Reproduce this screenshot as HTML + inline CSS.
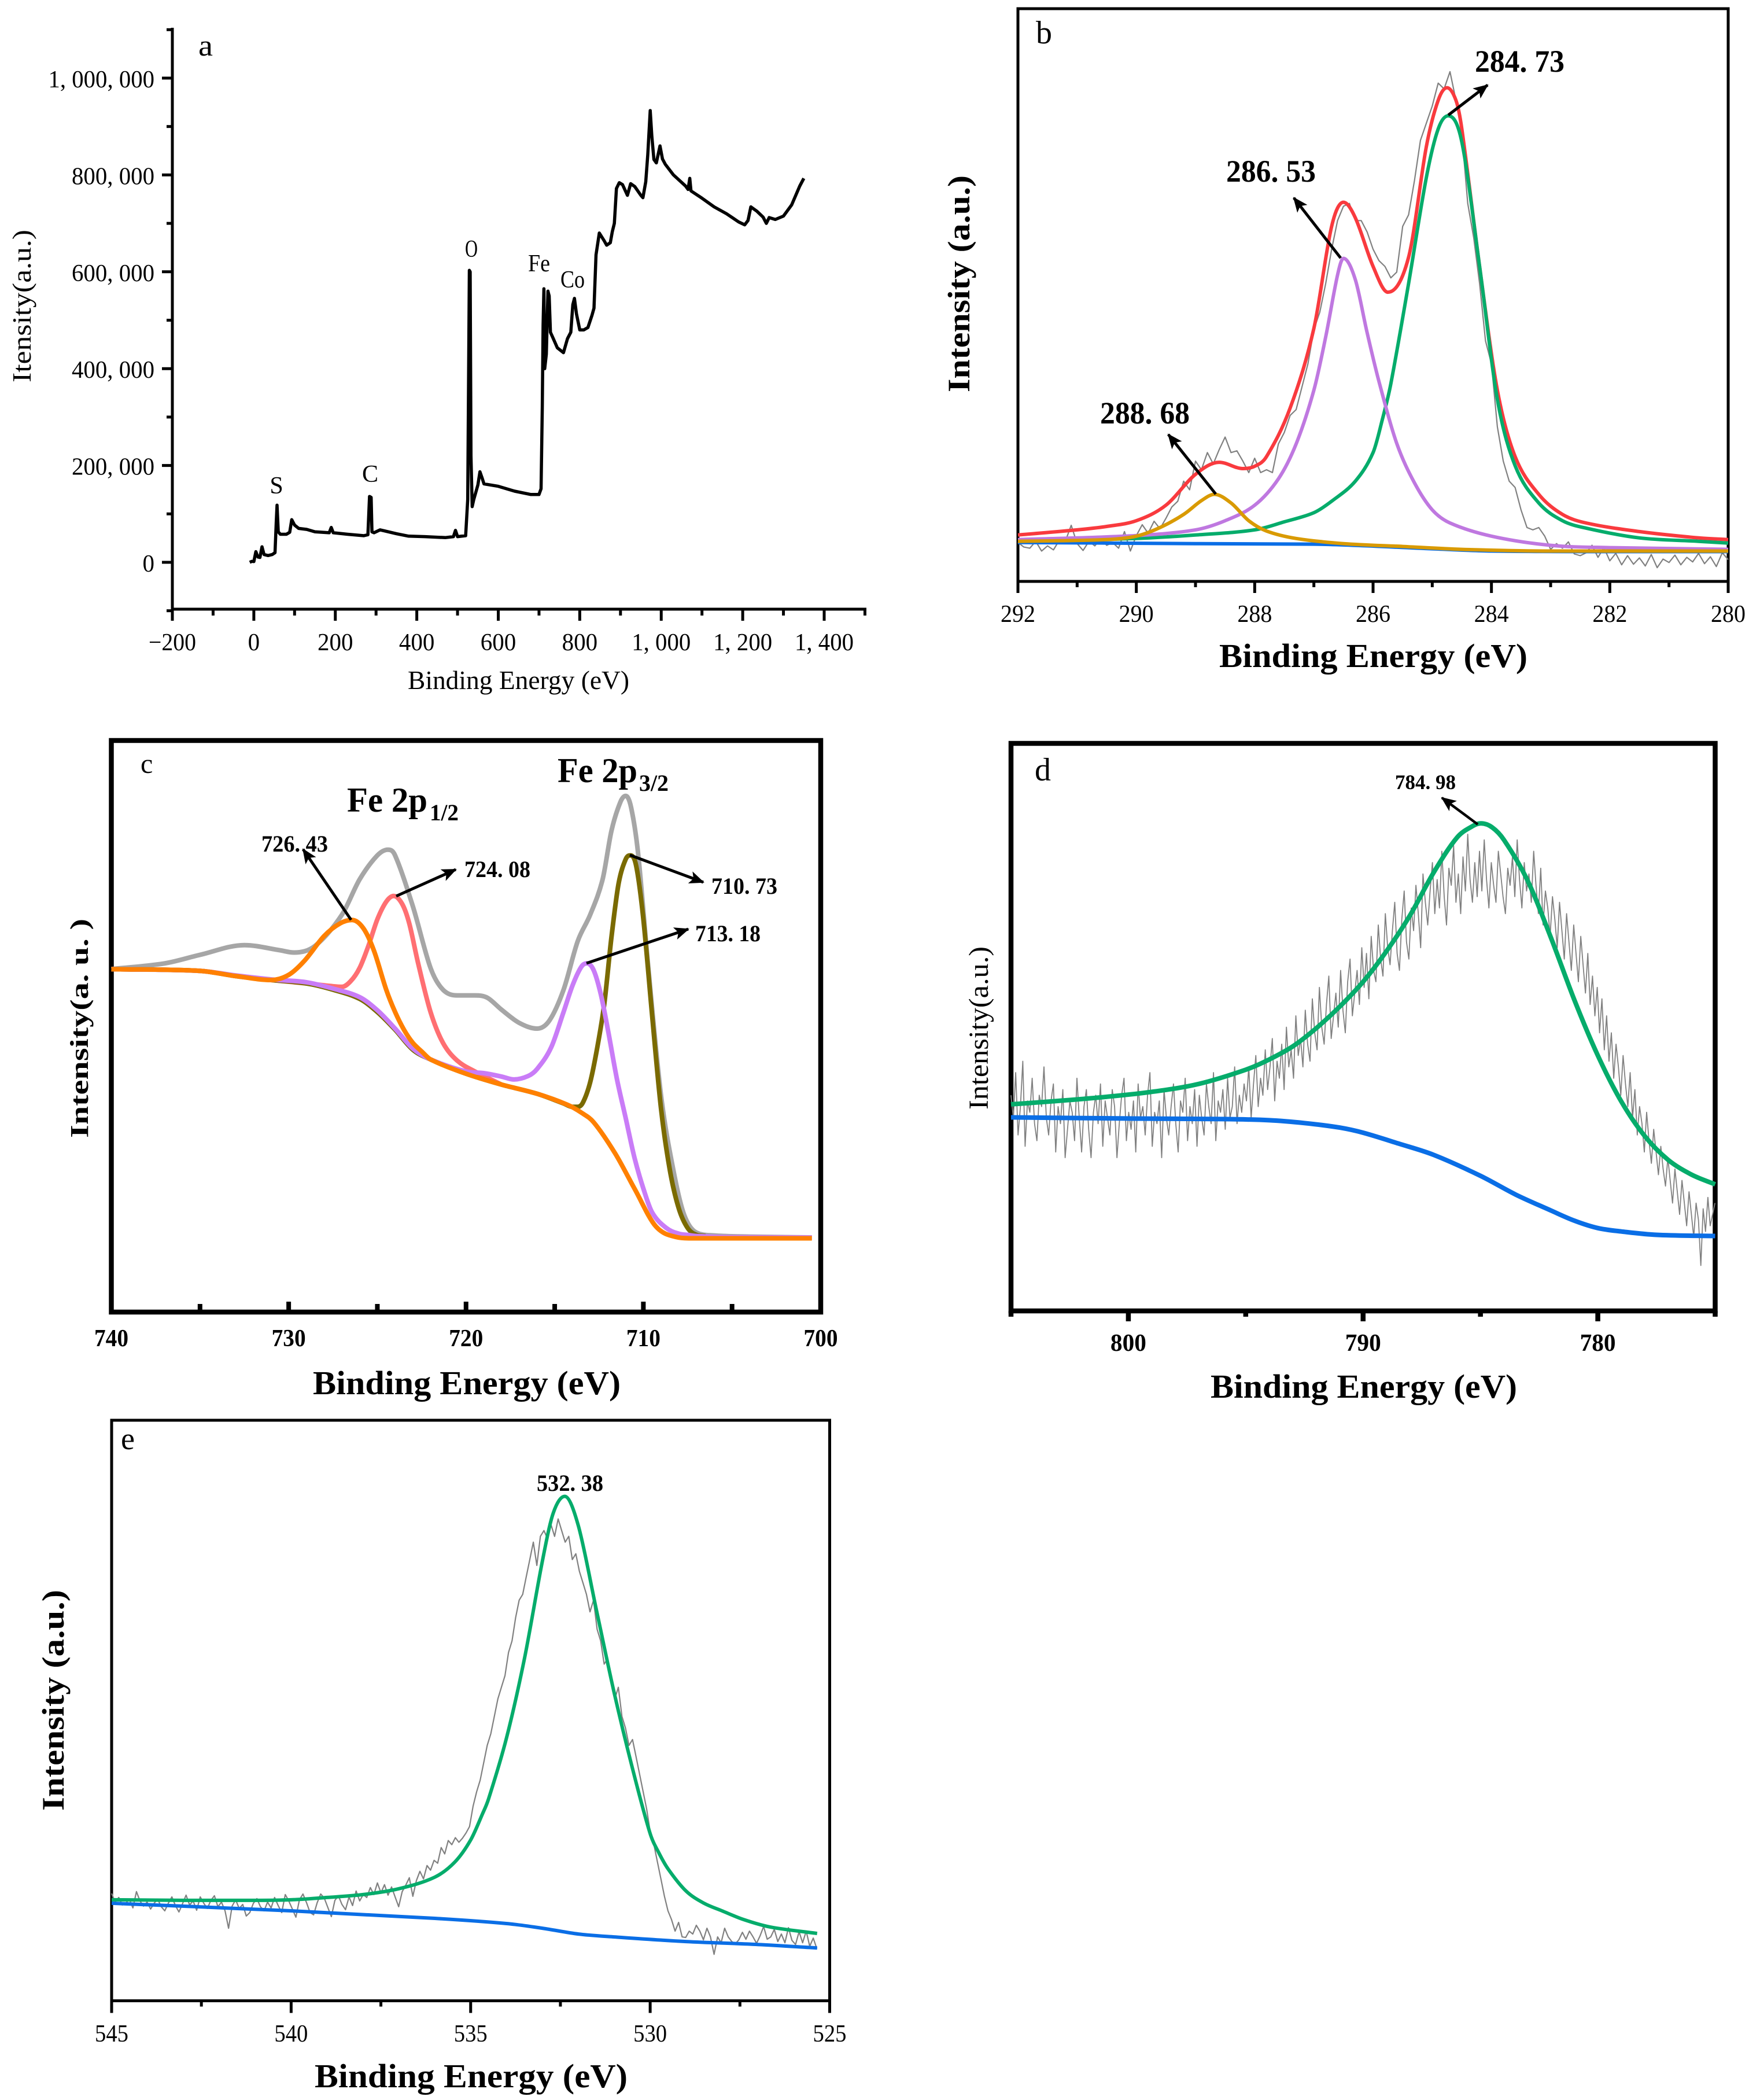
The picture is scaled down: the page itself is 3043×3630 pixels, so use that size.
<!DOCTYPE html>
<html lang="en">
<head>
<meta charset="utf-8">
<title>XPS spectra panels</title>
<style>
html,body{margin:0;padding:0;background:#fff;}
svg{display:block;}
text{font-family:"Liberation Serif","Noto Serif CJK SC",serif;fill:#000;}
.b{font-weight:bold;}
</style>
</head>
<body>
<svg id="figure" xmlns="http://www.w3.org/2000/svg" width="3043" height="3630" viewBox="0 0 3043 3630">
<defs>
<marker id="ah" viewBox="0 0 26 22" markerUnits="userSpaceOnUse" markerWidth="26" markerHeight="22" refX="24" refY="11" orient="auto">
<path d="M0 0L26 11L0 22L6 11z" fill="#000"/>
</marker>
</defs>
<rect width="3043" height="3630" fill="#fff"/>

<g id="panel-a">
<text x="343" y="96" font-size="52" textLength="25" lengthAdjust="spacingAndGlyphs">a</text>
<text x="478" y="853" font-size="42" text-anchor="middle">S</text>
<text x="640" y="833" font-size="42" text-anchor="middle">C</text>
<text x="815" y="444" font-size="42" text-anchor="middle" textLength="22" lengthAdjust="spacingAndGlyphs">O</text>
<text x="932" y="469" font-size="42" text-anchor="middle" textLength="38" lengthAdjust="spacingAndGlyphs">Fe</text>
<text x="990" y="497" font-size="42" text-anchor="middle" textLength="42" lengthAdjust="spacingAndGlyphs">Co</text>
<text x="705" y="1191" font-size="46" textLength="383" lengthAdjust="spacingAndGlyphs">Binding Energy (eV)</text>
<text transform="translate(53,661) rotate(-90)" font-size="46" textLength="264" lengthAdjust="spacingAndGlyphs">Itensity(a.u.)</text>
</g>

<g id="panel-b">
<rect x="1760" y="15" width="1228" height="990" fill="none" stroke="#000" stroke-width="5"/>
<text x="1791" y="75" font-size="56">b</text>
<text class="b" x="2108" y="1153" font-size="58" textLength="533" lengthAdjust="spacingAndGlyphs">Binding Energy (eV)</text>
<text class="b" transform="translate(1676,678) rotate(-90)" font-size="54" textLength="375" lengthAdjust="spacingAndGlyphs">Intensity (a.u.)</text>
</g>

<g id="panel-c">
<rect x="192.5" y="1280" width="1226.5" height="988" fill="none" stroke="#000" stroke-width="8.5"/>
<text x="243" y="1336" font-size="48">c</text>
<text class="b" x="541" y="2410" font-size="58" textLength="532" lengthAdjust="spacingAndGlyphs">Binding Energy (eV)</text>
<text class="b" transform="translate(152,1967) rotate(-90)" font-size="44" textLength="379" lengthAdjust="spacingAndGlyphs">Intensity(a. u. )</text>
</g>

<g id="panel-d">
<rect x="1748" y="1285" width="1217.5" height="981" fill="none" stroke="#000" stroke-width="8.5"/>
<text x="1789" y="1349" font-size="56">d</text>
<text class="b" x="2093" y="2416" font-size="58" textLength="530" lengthAdjust="spacingAndGlyphs">Binding Energy (eV)</text>
<text transform="translate(1708,1918) rotate(-90)" font-size="48" textLength="282" lengthAdjust="spacingAndGlyphs">Intensity(a.u.)</text>
</g>

<g id="panel-e">
<rect x="193" y="2455" width="1241.5" height="1003.5" fill="none" stroke="#000" stroke-width="5"/>
<text x="209" y="2505" font-size="54">e</text>
<text class="b" x="544" y="3608" font-size="58" textLength="541" lengthAdjust="spacingAndGlyphs">Binding Energy (eV)</text>
<text class="b" transform="translate(110,3130) rotate(-90)" font-size="54" textLength="382" lengthAdjust="spacingAndGlyphs">Intensity (a.u.)</text>
</g>

<g id="panel-annotations"></g>
</svg>

<script>
/* ---------- panel a: survey spectrum ---------- */
const aEnergy=[-10,-5,0,5,10,15,20,25,35,45,52,55,57,60,65,80,88,93,100,110,130,150,185,190,195,230,270,280,284,288,290,295,310,320,350,380,420,470,490,495,500,520,525,529,531,533,536,540,550,555,560,565,600,640,680,700,705,708,710,712,714,718,722,725,728,735,745,760,770,778,783,787,792,800,810,820,830,835,840,848,860,866,875,880,885,890,897,905,917,925,935,950,955,962,967,973,977,982,988,997,1003,1010,1030,1060,1066,1070,1073,1100,1130,1160,1190,1205,1213,1220,1235,1250,1258,1265,1280,1300,1320,1340,1350];
const aCounts=[0,2000,1500,22000,11000,10000,32000,16000,14000,16000,20000,82000,118000,63000,58000,58000,62000,88000,77000,70000,68000,63000,61000,72000,61000,58000,55000,57000,136000,134000,63000,61000,67000,65000,59000,54000,53000,51000,53000,66000,53000,55000,130000,603000,600000,220000,115000,130000,160000,187000,175000,162000,157000,147000,140000,140000,152000,320000,490000,565000,400000,430000,560000,550000,475000,462000,443000,433000,462000,475000,532000,545000,513000,480000,480000,485000,510000,525000,635000,680000,664000,655000,660000,683000,700000,772000,784000,780000,758000,782000,776000,758000,753000,786000,842000,933000,880000,832000,825000,860000,833000,822000,800000,777000,770000,793000,767000,752000,734000,720000,703000,697000,706000,734000,725000,713000,700000,712000,708000,715000,738000,777000,793000];
const aXTicks=[-200,0,200,400,600,800,1000,1200,1400];
const aXTickLabels=['\u2212200','0','200','400','600','800','1, 000','1, 200','1, 400'];
const aYTicks=[0,200000,400000,600000,800000,1000000];
const aYTickLabels=['0','200, 000','400, 000','600, 000','800, 000','1, 000, 000'];

/* ---------- panel b: C 1s ---------- */
const bXTicks=[292,290,288,286,284,282,280];
const bXTickLabels=['292','290','288','286','284','282','280'];
const bGrayStart=292;
const bGrayStep=0.1;
const bGray=[6.8,6,5.8,7,5.3,6.2,5.5,7.2,7,9.8,6.6,5.4,7,6.2,7.5,6.3,6.8,5.8,8.7,5.3,
8,9.9,8.4,10.5,9.2,11,13,14,17.5,16,
21,19.5,22.5,20.5,23,25.2,22.5,22.8,21,19,
21.5,19,19.5,19,24,26,29,30,34,38,
44,47,52,58,63,65.5,66,63,63,61,
58,56,55,53,54,62,64,70,77,80,
83,87,86,89,84,78,66,60,52,42,
38,27,21,17.5,16.4,12.5,9.4,9,9.4,7.9,
5.6,6.6,5.8,6.9,4.8,4.5,5,6.3,4.2,5.9,
3.6,4.9,2.9,4.5,3,4.1,2.7,4.7,2.4,3.9,3.3,4.6,2.9,4.2,3.4,4.9,3.1,4.3,2.6,5,3.8];
const bRedE=[292,291,290.5,290,289.5,289,288.6,288.2,288,287.8,287.4,287,286.7,286.5,286.3,286,285.75,285.4,285.1,284.9,284.75,284.6,284.5,284.2,283.9,283.6,283.2,282.8,282.4,281.5,280.5,280];
const bRedI=[8.1,9,9.6,10.6,13.3,18.7,20.8,19.7,20.1,21.8,30.3,44.2,62,66.2,63.5,55,50.5,56.6,75.9,84,86.2,84,79,55,33.4,21.8,15.2,11.7,10.2,8.7,7.6,7.3];
const bGreenE=[292,290,289,288,287.5,287,286.7,286.3,286,285.84,285.7,285.4,285.1,284.9,284.73,284.5,284.2,283.9,283.6,283.2,282.8,282.4,281.5,280.5,280];
const bGreenI=[7,7.5,8.1,9,10.4,12,14,17.5,22.5,28.4,34.5,52,70.5,79,81.3,76.7,55,31.8,20.2,13.7,10.6,9.3,7.6,7,6.7];
const bPurpleE=[292,290,289,288.5,288,287.6,287.3,287,286.8,286.6,286.5,286.3,286.1,285.9,285.6,285.3,285,284.7,284,283,282,280];
const bPurpleI=[7.3,8,9,10.6,13.3,17.9,24,33.4,42.7,53.5,56.4,52.7,43.4,34.9,24.1,17.2,12.5,10.2,7.9,6.3,5.9,5.6];
const bBlueE=[292,289,287,285,284,282,280];
const bBlueI=[6.8,6.6,6.5,5.7,5.3,5.2,5.2];
const bYellowE=[292,290.5,290,289.6,289.2,288.9,288.68,288.4,288.1,287.8,287.3,286.5,285.5,284.5,283,280];
const bYellowI=[7,7.3,7.9,9.4,11.7,14.1,15.2,13.7,10.6,8.8,7.5,6.6,6.1,5.6,5.3,5.3];

/* ---------- panel c: Fe 2p ---------- */
const cXTicks=[740,730,720,710,700];
const cXTickLabels=['740','730','720','710','700'];
const cGrayE=[740,737,735,732.5,730.5,729.7,728.5,727,726,725,724.4,724,723,722,721.3,720.5,719.5,718.8,718,717,716,715.3,714.5,713.7,713,712.3,711.8,711.3,711,710.7,710.3,709.7,709,708.3,707.7,707,706,704,700.5];
const cGrayI=[60,61,62.5,64.2,63.3,62.9,64.1,69.5,75.7,79.9,80.9,79.9,71,60.2,56.4,55.4,55.4,55,52.9,50.6,49.6,51,56.4,64.9,69.5,75.7,84.2,89.2,90.3,88.4,80.3,59.5,37.8,24.7,17,13.9,13.4,13.2,13.05];
const cOliveE=[740,735,733,731,729,727.5,726,725,724,723,722,720,718,716,714.5,714,713.7,713.4,713,712.6,712.2,711.8,711.4,711,710.73,710.4,710,709.5,709,708.5,708,707.5,707,706.5];
const cOliveI=[60,59.7,58.8,58.1,57.5,56.4,54.8,52.5,49.4,45.9,44.2,41.7,39.8,38.2,36.5,35.9,35.9,36.7,40.2,46.3,54,65.6,74.9,79.2,79.9,78,68.7,51.7,35.5,24.7,18.1,14.7,13.5,13.3];
const cSalmonE=[740,735,733,731,729,727.5,727,726.5,726,725.5,725,724.5,724.08,723.6,723.2,722.7,722,721.3,720.5,719.5,718];
const cSalmonI=[60,59.7,58.8,58.1,57.5,57,56.9,57.9,60.2,64.1,68.7,71.8,72.8,71.4,68,61,52.5,47.1,44,42.1,39.8];
const cPurpleE=[740,735,733,731,729,727.5,726,725,724,723,722,720,719,718,717.3,716.5,716,715.2,714.5,714,713.5,713.18,712.8,712.4,712,711.5,711,710.5,710,709.5,708.7,708,707.5,707,705,700.5];
const cPurpleI=[60,59.7,58.9,58.2,57.7,56.6,55.1,52.8,49.6,46.1,44.2,42.1,41.8,41.2,40.7,41.3,42.5,46.3,52.5,57.1,60.4,61,59.8,55.6,49.4,40.9,34,27,21.6,17.4,14.7,13.7,13.5,13.3,13.1,13.05];
const cOrangeE=[740,735,733,731,730,729.1,728,727.1,726.43,725.8,725.2,724.5,724,723.5,723,722.5,722,720,718,716,714.3,713.5,712.8,711.6,710.5,709.3,708.1,707.3,705,700.5];
const cOrangeI=[60,59.7,58.8,58.1,59,61.5,65.8,68,68.6,67.2,63.3,56.4,52.5,49.4,47.1,45.6,44.2,41.7,39.8,38.2,36.3,34.9,33.2,27.8,21.6,15,13.1,12.9,12.9,12.9];

/* ---------- panel d: Co 2p ---------- */
const dXTicks=[800,790,780];
const dXTickLabels=['800','790','780'];
const dGrayStart=805;
const dGrayStep=0.1003;
const dGray=[38,34,42,31,36,44,29,37,35,41,33,30,38,36,43,34,31,37,40,28,
36,33,39,27,32,37,35,30,41,34,28,36,39,32,27,35,38,33,40,29,
37,34,31,39,36,27,33,38,41,30,35,32,37,28,40,34,36,31,38,42,
29,35,33,37,27,39,34,31,36,40,33,28,37,35,41,30,36,33,39,29,
38,34,31,40,36,33,42,30,37,35,39,32,41,34,36,43,33,38,35,40,
37,43,34,40,45,36,41,38,46,39,43,48,37,44,41,47,39,50,43,46,
41,52,45,48,43,53,47,44,55,49,46,57,50,47,54,59,48,52,56,50,
60,53,49,58,62,52,56,60,54,64,
57,63,55,66,60,58,68,62,59,70,64,61,67,72,63,60,69,74,65,62,
71,67,75,70,64,77,72,68,74,79,70,76,71,81,73,68,78,75,82,72,
77,70,80,74,84,76,72,79,73,81,
74,83,76,71,79,75,72,81,77,73,70,78,75,80,73,83,76,71,79,74,
77,72,81,75,70,78,68,74,71,66,73,69,64,72,67,62,70,65,60,68,
63,58,66,61,56,63,54,59,52,57,
49,55,46,52,44,49,41,47,43,38,45,40,36,42,34,39,31,36,33,28,
35,30,26,32,28,24,29,25,22,27,23,19,25,21,17,23,19,15,21,17,
13,19,16,8,18,14,20,15,17,19];
const dGreenE=[805,803,801,799,797,795,794,793,792,791,790,789,788,787,786,785.3,784.98,784.5,784,783,782,781,780,779,778,777,776,775];
const dGreenI=[36.4,37,37.7,38.6,40,42.5,44.3,46.6,49.8,53.6,58,63.4,69.7,77.2,83.4,85.5,85.9,85.2,83,75.9,65.8,54.8,45,36.9,30.8,26.6,24,22.3];
const dBlueE=[805,800,796,794,792.5,791,790,788.5,787,785,783.5,782,781,780,779,777.5,775];
const dBlueI=[34.1,33.9,33.8,33.6,33.1,32.3,31.4,29.5,27.5,23.8,20.5,17.7,15.9,14.6,14,13.4,13.2];

/* ---------- panel e: O 1s ---------- */
const eXTicks=[545,540,535,530,525];
const eXTickLabels=['545','540','535','530','525'];
const eGrayStart=545;
const eGrayStep=0.0987;
const eGray=[18.5,17,17.8,16.5,16.8,17.5,16,18.8,17.2,16.3,17,15.8,16.8,17.5,16.2,15.5,16.8,17.9,16.4,15.3,16.7,18.2,16.5,17.2,15.6,17.9,16.8,15.9,17.3,18.1,16.2,17,15.5,12.5,16.3,17.4,15.9,16.6,14.6,15.2,16.8,17.6,16.2,15.5,17,16,17.8,16.4,15.2,18.3,17.2,15.8,14.4,17.4,18.4,16.9,15.2,14.8,16.9,18.4,17.7,16.1,14.5,17.3,18.1,16.6,15.7,17.9,16.4,18.9,17.2,
18.3,17.8,19.5,18.3,20.3,18.6,20,18.2,19.6,17.9,16.2,18.8,19.9,21.2,18,20.7,22.3,21,23.3,22.5,
24.2,23.7,26.4,25.3,27.6,26.9,28.1,27.3,28,28.9,
30,33.5,36,38,41,44,46,49,52,54,56,60,62,66,69,
70,73,76,79,75,80,81,79.6,82,80,83,
81,79,80,76,77,74,72,70,67,69,64,62,58,59,
55,52,54,49,47,44,45,42,39,36,
33,29,27,24,21,18,15.5,14,12,13.5,
11,10.9,12,11.5,13,12,10.5,12.5,11,8,
11,10,12.5,11,10.2,9.8,10.5,11.8,10.6,12,11,9.9,11.2,12.8,10.6,11,12.3,10.2,11.5,10,12.6,10.4,9.7,11.9,10,12,9.4,10.8,9];
const eGreenE=[545,543,541,540,539,538,537,536,535.44,535,534.67,534.5,534,533.5,533,532.7,532.38,532,531.5,531,530.5,530,529.75,529.5,529,528.5,528,527.4,526.65,525.35];
const eGreenI=[17.4,17.3,17.3,17.4,17.8,18.3,19.3,21.3,23.9,27.7,32.2,34.8,45.3,59,75.8,84,86.9,81.8,67.4,53,40.2,28.8,25.4,22.7,18.9,16.8,15.5,14,12.7,11.6];
const eBlueE=[545,540,536,534,533,532,531,529,527,525.35];
const eBlueI=[16.8,15.5,14.2,13.3,12.5,11.5,11,10.2,9.7,9.1];

/* ---------- drawing helpers ---------- */
const NS='http://www.w3.org/2000/svg';
function mk(parent,tag,attrs,txt){
  const el=document.createElementNS(NS,tag);
  for(const k in attrs){el.setAttribute(k,attrs[k]);}
  if(txt!==undefined){el.textContent=txt;}
  parent.appendChild(el);
  return el;
}
function linear(d0,d1,r0,r1){return function(v){return r0+(v-d0)*(r1-r0)/(d1-d0);};}
function polyD(xs,ys,sx,sy){
  let d='';
  for(let i=0;i<xs.length;i++){d+=(i?'L':'M')+sx(xs[i]).toFixed(1)+' '+sy(ys[i]).toFixed(1);}
  return d;
}
/* smooth Hermite curve through the read points: flat at local extrema, central slopes elsewhere */
function smoothD(xs,ys,sx,sy){
  const X=xs.map(sx),Y=ys.map(sy),n=X.length,m=[];
  const s=[];
  for(let i=0;i<n-1;i++){s.push((Y[i+1]-Y[i])/(X[i+1]-X[i]));}
  m[0]=s[0];m[n-1]=s[n-2];
  for(let i=1;i<n-1;i++){
    if(s[i-1]*s[i]<=0){m[i]=0;}
    else{
      const c=(Y[i+1]-Y[i-1])/(X[i+1]-X[i-1]);
      const lim=3*Math.min(Math.abs(s[i-1]),Math.abs(s[i]));
      m[i]=Math.sign(c)*Math.min(Math.abs(c),lim);
    }
  }
  let d='M'+X[0].toFixed(1)+' '+Y[0].toFixed(1);
  for(let i=0;i<n-1;i++){
    const h=(X[i+1]-X[i])/3;
    d+='C'+(X[i]+h).toFixed(1)+' '+(Y[i]+m[i]*h).toFixed(1)+' '+(X[i+1]-h).toFixed(1)+' '+(Y[i+1]-m[i+1]*h).toFixed(1)+' '+X[i+1].toFixed(1)+' '+Y[i+1].toFixed(1);
  }
  return d;
}
function seriesX(start,step,values){return values.map(function(_,i){return start+i*step;});}
function stroke(parent,d,color,w){
  return mk(parent,'path',{d:d,fill:'none',stroke:color,'stroke-width':w,'stroke-linejoin':'round','stroke-linecap':'butt'});
}
/* bottom axis ticks + labels for spectra panels */
function xTicks(parent,sx,base,major,labels,minor,majorLen,minorLen,w,labelY,labelW,bold){
  major.forEach(function(v,i){
    const t=mk(parent,'line',{x1:sx(v),x2:sx(v),y1:base,y2:base+majorLen,stroke:'#000','stroke-width':w});
    
    
    const attrs={x:sx(v),y:labelY,'font-size':42,'text-anchor':'middle',textLength:labelW,lengthAdjust:'spacingAndGlyphs'};
    if(bold){attrs['class']='b';}
    const l=mk(parent,'text',attrs,labels[i]);
    
    
  });
  minor.forEach(function(v){
    const t=mk(parent,'line',{x1:sx(v),x2:sx(v),y1:base,y2:base+minorLen,stroke:'#000','stroke-width':w});
    
    
  });
}
function labelWidth(s){
  const digits=(s.match(/[0-9\u2212]/g)||[]).length;
  const commas=(s.match(/,/g)||[]).length;
  return digits*20.5+commas*20;
}

/* ---------- panel a ---------- */
(function(){
  const g=document.getElementById('panel-a');
  const sx=linear(-200,1400,298,1425);
  const sy=linear(0,1000000,972,135);
  const xAxis=mk(g,'line',{x1:sx(-200)-2.5,x2:1498,y1:1053,y2:1053,stroke:'#000','stroke-width':5});
  
  
  const yAxis=mk(g,'line',{x1:298,x2:298,y1:48,y2:1055,stroke:'#000','stroke-width':5});
  
  
  aXTicks.forEach(function(v,i){
    const t=mk(g,'line',{x1:sx(v),x2:sx(v),y1:1053,y2:1073,stroke:'#000','stroke-width':5});
    
    
    const s=aXTickLabels[i];
    const l=mk(g,'text',{x:sx(v),y:1124,'font-size':42,'text-anchor':'middle',textLength:labelWidth(s),lengthAdjust:'spacingAndGlyphs'},s);
    
    
    if(v<1400){
      const m=mk(g,'line',{x1:sx(v+100),x2:sx(v+100),y1:1053,y2:1064,stroke:'#000','stroke-width':5});
      
      
    }
  });
  const endTick=mk(g,'line',{x1:sx(1500),x2:sx(1500),y1:1053,y2:1064,stroke:'#000','stroke-width':5});
  
  
  aYTicks.forEach(function(v,i){
    const t=mk(g,'line',{x1:280,x2:298,y1:sy(v),y2:sy(v),stroke:'#000','stroke-width':5});
    
    
    const s=aYTickLabels[i];
    const l=mk(g,'text',{x:267,y:sy(v)+16,'font-size':42,'text-anchor':'end',textLength:labelWidth(s),lengthAdjust:'spacingAndGlyphs'},s);
    
    
    const m1=mk(g,'line',{x1:288,x2:298,y1:sy(v-100000),y2:sy(v-100000),stroke:'#000','stroke-width':5});
    
    
  });
  [1100000].forEach(function(v){
    const m=mk(g,'line',{x1:288,x2:298,y1:sy(v),y2:sy(v),stroke:'#000','stroke-width':5});
    
    
  });
  const line=stroke(g,polyD(aEnergy,aCounts,sx,sy),'#000',5.5);
  
  
})();

/* ---------- panel b ---------- */
(function(){
  const g=document.getElementById('panel-b');
  const sx=linear(292,280,1760,2988);
  const sy=linear(0,100,1005,15);
  const minor=[291,289,287,285,283,281];
  xTicks(g,sx,1005,bXTicks,bXTickLabels,minor,20,10,5,1075,60,false);
  const gray=stroke(g,polyD(seriesX(bGrayStart,-bGrayStep,bGray),bGray,sx,sy),'#808080',2.2);
  
  
  const red=stroke(g,smoothD(bRedE,bRedI,sx,sy),'#f93a3e',6);
  
  
  const green=stroke(g,smoothD(bGreenE,bGreenI,sx,sy),'#05ac6b',6);
  
  
  const purple=stroke(g,smoothD(bPurpleE,bPurpleI,sx,sy),'#bf78e0',6);
  
  
  const blue=stroke(g,smoothD(bBlueE,bBlueI,sx,sy),'#0a6ee6',6);
  
  
  const yellow=stroke(g,smoothD(bYellowE,bYellowI,sx,sy),'#d99a00',6);
  
  
})();

/* ---------- panel c ---------- */
(function(){
  const g=document.getElementById('panel-c');
  const sx=linear(740,700,192.5,1419);
  const sy=linear(0,100,2268,1280);
  xTicks(g,sx,2268,cXTicks,cXTickLabels,[735,725,715,705],-18,-14,8,2327,59,true);
  const gray=stroke(g,smoothD(cGrayE,cGrayI,sx,sy),'#a6a6a6',8);
  
  
  const salmon=stroke(g,smoothD(cSalmonE,cSalmonI,sx,sy),'#ff6f72',8);
  
  
  const olive=stroke(g,smoothD(cOliveE,cOliveI,sx,sy),'#7a6a00',8);
  
  
  const purple=stroke(g,smoothD(cPurpleE,cPurpleI,sx,sy),'#c97cf7',8);
  
  
  const orange=stroke(g,smoothD(cOrangeE,cOrangeI,sx,sy),'#ff8000',8);
  
  
})();

/* ---------- panel d ---------- */
(function(){
  const g=document.getElementById('panel-d');
  const sx=linear(805,775,1748,2965.5);
  const sy=linear(0,100,2266,1285);
  xTicks(g,sx,2266,dXTicks,dXTickLabels,[805,795,785,775],18,10,8.5,2335,62,true);
  const gray=stroke(g,polyD(seriesX(dGrayStart,-dGrayStep,dGray),dGray,sx,sy),'#808080',1.8);
  
  
  const blue=stroke(g,smoothD(dBlueE,dBlueI,sx,sy),'#0a6ee6',8);
  
  
  const green=stroke(g,smoothD(dGreenE,dGreenI,sx,sy),'#05ac6b',8);
  
  
})();

/* ---------- panel e ---------- */
(function(){
  const g=document.getElementById('panel-e');
  const sx=linear(545,525,193,1434.5);
  const sy=linear(0,100,3458.5,2455);
  xTicks(g,sx,3458.5,eXTicks,eXTickLabels,[542.5,537.5,532.5,527.5],21,10,5,3529,58,false);
  const gray=stroke(g,polyD(seriesX(eGrayStart,-eGrayStep,eGray),eGray,sx,sy),'#808080',2.2);
  
  
  const blue=stroke(g,smoothD(eBlueE,eBlueI,sx,sy),'#0a6ee6',6);
  
  
  const green=stroke(g,smoothD(eGreenE,eGreenI,sx,sy),'#05ac6b',6);
  
  
})();

/* ---------- annotations go on top of the curves ---------- */
(function(){
  const g=document.getElementById('panel-annotations');
  g.innerHTML=
  '<line x1="2504" y1="199" x2="2572" y2="147" stroke="#000" stroke-width="5" marker-end="url(#ah)"/>'+
  '<line x1="2318" y1="446" x2="2237" y2="342" stroke="#000" stroke-width="5" marker-end="url(#ah)"/>'+
  '<line x1="2102" y1="854" x2="2020" y2="751" stroke="#000" stroke-width="5" marker-end="url(#ah)"/>'+
  '<text class="b" x="2550" y="124" font-size="54" textLength="155" lengthAdjust="spacingAndGlyphs">284. 73</text>'+
  '<text class="b" x="2120" y="314" font-size="54" textLength="155" lengthAdjust="spacingAndGlyphs">286. 53</text>'+
  '<text class="b" x="1902" y="732" font-size="54" textLength="155" lengthAdjust="spacingAndGlyphs">288. 68</text>'+
  '<line x1="607" y1="1590" x2="524" y2="1468" stroke="#000" stroke-width="5" marker-end="url(#ah)"/>'+
  '<line x1="685" y1="1549" x2="788" y2="1503" stroke="#000" stroke-width="5" marker-end="url(#ah)"/>'+
  '<line x1="1089" y1="1478" x2="1216" y2="1525" stroke="#000" stroke-width="5" marker-end="url(#ah)"/>'+
  '<line x1="1014" y1="1665" x2="1190" y2="1606" stroke="#000" stroke-width="5" marker-end="url(#ah)"/>'+
  '<text class="b" x="452" y="1472" font-size="40" textLength="115" lengthAdjust="spacingAndGlyphs">726. 43</text>'+
  '<text class="b" x="803" y="1516" font-size="40" textLength="114" lengthAdjust="spacingAndGlyphs">724. 08</text>'+
  '<text class="b" x="1230" y="1545" font-size="40" textLength="114" lengthAdjust="spacingAndGlyphs">710. 73</text>'+
  '<text class="b" x="1202" y="1627" font-size="40" textLength="113" lengthAdjust="spacingAndGlyphs">713. 18</text>'+
  '<text class="b" x="600" y="1403" font-size="60" textLength="139" lengthAdjust="spacingAndGlyphs">Fe 2p</text>'+
  '<text class="b" x="743" y="1418" font-size="40" textLength="50" lengthAdjust="spacingAndGlyphs">1/2</text>'+
  '<text class="b" x="964" y="1352" font-size="60" textLength="138" lengthAdjust="spacingAndGlyphs">Fe 2p</text>'+
  '<text class="b" x="1105" y="1367" font-size="40" textLength="51" lengthAdjust="spacingAndGlyphs">3/2</text>'+
  '<line x1="2555" y1="1425" x2="2493" y2="1379" stroke="#000" stroke-width="4.5" marker-end="url(#ah)"/>'+
  '<text class="b" x="2412" y="1364" font-size="36" textLength="105" lengthAdjust="spacingAndGlyphs">784. 98</text>'+
  '<text class="b" x="928" y="2577" font-size="40" textLength="115" lengthAdjust="spacingAndGlyphs">532. 38</text>';
})();
</script>
</body>
</html>
